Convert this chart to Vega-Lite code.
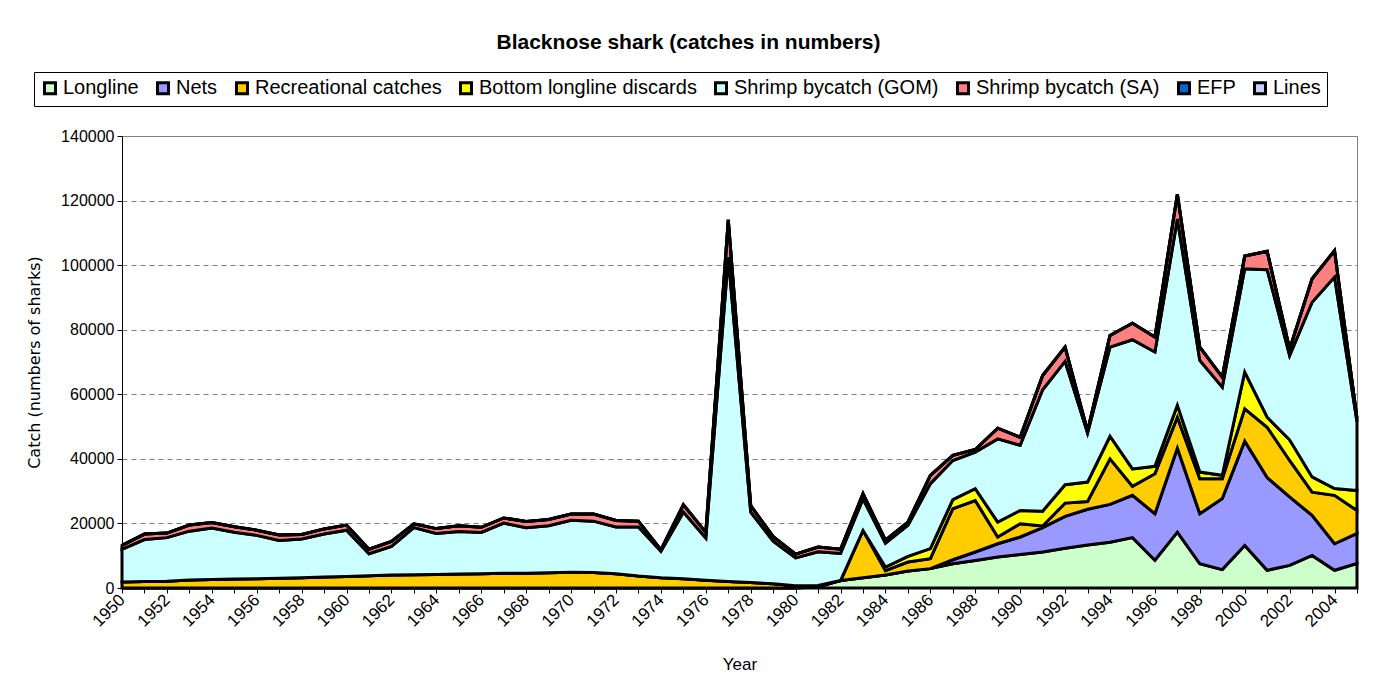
{
  "$schema": "https://vega.github.io/schema/vega-lite/v6.json",
  "width": 1235,
  "height": 452,
  "autosize": {"type": "none"},
  "padding": {"left": 122, "top": 136, "right": 19, "bottom": 104},
  "background": "white",
  "title": {"text": "Blacknose shark (catches in numbers)", "fontSize": 21, "font": "Liberation Sans", "fontWeight": "bold", "anchor": "middle", "frame": "group", "dx": -51, "offset": 19, "color": "black"},
  "data": {"values": [
    {"year": 1950, "Longline": 0, "Nets": 0, "Recreational catches": 1850, "Bottom longline discards": 0, "Shrimp bycatch (GOM)": 10150, "Shrimp bycatch (SA)": 1200, "EFP": 0, "Lines": 0},
    {"year": 1951, "Longline": 0, "Nets": 0, "Recreational catches": 2050, "Bottom longline discards": 0, "Shrimp bycatch (GOM)": 12950, "Shrimp bycatch (SA)": 1700, "EFP": 0, "Lines": 0},
    {"year": 1952, "Longline": 0, "Nets": 0, "Recreational catches": 2100, "Bottom longline discards": 0, "Shrimp bycatch (GOM)": 13500, "Shrimp bycatch (SA)": 1400, "EFP": 0, "Lines": 0},
    {"year": 1953, "Longline": 0, "Nets": 0, "Recreational catches": 2450, "Bottom longline discards": 0, "Shrimp bycatch (GOM)": 15150, "Shrimp bycatch (SA)": 1900, "EFP": 0, "Lines": 0},
    {"year": 1954, "Longline": 0, "Nets": 0, "Recreational catches": 2600, "Bottom longline discards": 0, "Shrimp bycatch (GOM)": 16000, "Shrimp bycatch (SA)": 1700, "EFP": 0, "Lines": 0},
    {"year": 1955, "Longline": 0, "Nets": 0, "Recreational catches": 2750, "Bottom longline discards": 0, "Shrimp bycatch (GOM)": 14550, "Shrimp bycatch (SA)": 1700, "EFP": 0, "Lines": 0},
    {"year": 1956, "Longline": 0, "Nets": 0, "Recreational catches": 2900, "Bottom longline discards": 0, "Shrimp bycatch (GOM)": 13400, "Shrimp bycatch (SA)": 1600, "EFP": 0, "Lines": 0},
    {"year": 1957, "Longline": 0, "Nets": 0, "Recreational catches": 3050, "Bottom longline discards": 0, "Shrimp bycatch (GOM)": 11650, "Shrimp bycatch (SA)": 1700, "EFP": 0, "Lines": 0},
    {"year": 1958, "Longline": 0, "Nets": 0, "Recreational catches": 3200, "Bottom longline discards": 0, "Shrimp bycatch (GOM)": 12000, "Shrimp bycatch (SA)": 1400, "EFP": 0, "Lines": 0},
    {"year": 1959, "Longline": 0, "Nets": 0, "Recreational catches": 3400, "Bottom longline discards": 0, "Shrimp bycatch (GOM)": 13300, "Shrimp bycatch (SA)": 1600, "EFP": 0, "Lines": 0},
    {"year": 1960, "Longline": 0, "Nets": 0, "Recreational catches": 3600, "Bottom longline discards": 0, "Shrimp bycatch (GOM)": 14300, "Shrimp bycatch (SA)": 1600, "EFP": 0, "Lines": 0},
    {"year": 1961, "Longline": 0, "Nets": 0, "Recreational catches": 3800, "Bottom longline discards": 0, "Shrimp bycatch (GOM)": 6800, "Shrimp bycatch (SA)": 1400, "EFP": 0, "Lines": 0},
    {"year": 1962, "Longline": 0, "Nets": 0, "Recreational catches": 4000, "Bottom longline discards": 0, "Shrimp bycatch (GOM)": 8900, "Shrimp bycatch (SA)": 1500, "EFP": 0, "Lines": 0},
    {"year": 1963, "Longline": 0, "Nets": 0, "Recreational catches": 4100, "Bottom longline discards": 0, "Shrimp bycatch (GOM)": 14600, "Shrimp bycatch (SA)": 1200, "EFP": 0, "Lines": 0},
    {"year": 1964, "Longline": 0, "Nets": 0, "Recreational catches": 4200, "Bottom longline discards": 0, "Shrimp bycatch (GOM)": 12700, "Shrimp bycatch (SA)": 1500, "EFP": 0, "Lines": 0},
    {"year": 1965, "Longline": 0, "Nets": 0, "Recreational catches": 4350, "Bottom longline discards": 0, "Shrimp bycatch (GOM)": 13150, "Shrimp bycatch (SA)": 1800, "EFP": 0, "Lines": 0},
    {"year": 1966, "Longline": 0, "Nets": 0, "Recreational catches": 4450, "Bottom longline discards": 0, "Shrimp bycatch (GOM)": 12750, "Shrimp bycatch (SA)": 1600, "EFP": 0, "Lines": 0},
    {"year": 1967, "Longline": 0, "Nets": 0, "Recreational catches": 4550, "Bottom longline discards": 0, "Shrimp bycatch (GOM)": 15550, "Shrimp bycatch (SA)": 1600, "EFP": 0, "Lines": 0},
    {"year": 1968, "Longline": 0, "Nets": 0, "Recreational catches": 4600, "Bottom longline discards": 0, "Shrimp bycatch (GOM)": 14100, "Shrimp bycatch (SA)": 1900, "EFP": 0, "Lines": 0},
    {"year": 1969, "Longline": 0, "Nets": 0, "Recreational catches": 4750, "Bottom longline discards": 0, "Shrimp bycatch (GOM)": 14550, "Shrimp bycatch (SA)": 1900, "EFP": 0, "Lines": 0},
    {"year": 1970, "Longline": 0, "Nets": 0, "Recreational catches": 4900, "Bottom longline discards": 0, "Shrimp bycatch (GOM)": 16100, "Shrimp bycatch (SA)": 1900, "EFP": 0, "Lines": 0},
    {"year": 1971, "Longline": 0, "Nets": 0, "Recreational catches": 4800, "Bottom longline discards": 0, "Shrimp bycatch (GOM)": 15900, "Shrimp bycatch (SA)": 2200, "EFP": 0, "Lines": 0},
    {"year": 1972, "Longline": 0, "Nets": 0, "Recreational catches": 4400, "Bottom longline discards": 0, "Shrimp bycatch (GOM)": 14500, "Shrimp bycatch (SA)": 2000, "EFP": 0, "Lines": 0},
    {"year": 1973, "Longline": 0, "Nets": 0, "Recreational catches": 3700, "Bottom longline discards": 0, "Shrimp bycatch (GOM)": 15200, "Shrimp bycatch (SA)": 1800, "EFP": 0, "Lines": 0},
    {"year": 1974, "Longline": 0, "Nets": 0, "Recreational catches": 3200, "Bottom longline discards": 0, "Shrimp bycatch (GOM)": 8200, "Shrimp bycatch (SA)": 400, "EFP": 0, "Lines": 0},
    {"year": 1975, "Longline": 0, "Nets": 0, "Recreational catches": 2900, "Bottom longline discards": 0, "Shrimp bycatch (GOM)": 20600, "Shrimp bycatch (SA)": 2300, "EFP": 0, "Lines": 0},
    {"year": 1976, "Longline": 0, "Nets": 0, "Recreational catches": 2400, "Bottom longline discards": 0, "Shrimp bycatch (GOM)": 13100, "Shrimp bycatch (SA)": 1700, "EFP": 0, "Lines": 0},
    {"year": 1977, "Longline": 0, "Nets": 0, "Recreational catches": 2000, "Bottom longline discards": 0, "Shrimp bycatch (GOM)": 100500, "Shrimp bycatch (SA)": 11500, "EFP": 0, "Lines": 0},
    {"year": 1978, "Longline": 0, "Nets": 0, "Recreational catches": 1700, "Bottom longline discards": 0, "Shrimp bycatch (GOM)": 21800, "Shrimp bycatch (SA)": 2000, "EFP": 0, "Lines": 0},
    {"year": 1979, "Longline": 0, "Nets": 0, "Recreational catches": 1300, "Bottom longline discards": 0, "Shrimp bycatch (GOM)": 13200, "Shrimp bycatch (SA)": 1400, "EFP": 0, "Lines": 0},
    {"year": 1980, "Longline": 0, "Nets": 0, "Recreational catches": 700, "Bottom longline discards": 0, "Shrimp bycatch (GOM)": 8600, "Shrimp bycatch (SA)": 1200, "EFP": 0, "Lines": 0},
    {"year": 1981, "Longline": 400, "Nets": 0, "Recreational catches": 400, "Bottom longline discards": 0, "Shrimp bycatch (GOM)": 10400, "Shrimp bycatch (SA)": 1500, "EFP": 0, "Lines": 0},
    {"year": 1982, "Longline": 2300, "Nets": 0, "Recreational catches": 0, "Bottom longline discards": 0, "Shrimp bycatch (GOM)": 8400, "Shrimp bycatch (SA)": 1300, "EFP": 0, "Lines": 0},
    {"year": 1983, "Longline": 3200, "Nets": 0, "Recreational catches": 14650, "Bottom longline discards": 0, "Shrimp bycatch (GOM)": 9750, "Shrimp bycatch (SA)": 1600, "EFP": 0, "Lines": 0},
    {"year": 1984, "Longline": 4000, "Nets": 0, "Recreational catches": 1400, "Bottom longline discards": 1100, "Shrimp bycatch (GOM)": 7400, "Shrimp bycatch (SA)": 900, "EFP": 0, "Lines": 0},
    {"year": 1985, "Longline": 5250, "Nets": 0, "Recreational catches": 2800, "Bottom longline discards": 1750, "Shrimp bycatch (GOM)": 9600, "Shrimp bycatch (SA)": 1000, "EFP": 0, "Lines": 0},
    {"year": 1986, "Longline": 6000, "Nets": 0, "Recreational catches": 3080, "Bottom longline discards": 3120, "Shrimp bycatch (GOM)": 20100, "Shrimp bycatch (SA)": 2600, "EFP": 0, "Lines": 0},
    {"year": 1987, "Longline": 7500, "Nets": 1250, "Recreational catches": 15800, "Bottom longline discards": 2800, "Shrimp bycatch (GOM)": 12150, "Shrimp bycatch (SA)": 1600, "EFP": 0, "Lines": 0},
    {"year": 1988, "Longline": 8550, "Nets": 2600, "Recreational catches": 15950, "Bottom longline discards": 3650, "Shrimp bycatch (GOM)": 11350, "Shrimp bycatch (SA)": 800, "EFP": 0, "Lines": 0},
    {"year": 1989, "Longline": 9600, "Nets": 4100, "Recreational catches": 2100, "Bottom longline discards": 4600, "Shrimp bycatch (GOM)": 25800, "Shrimp bycatch (SA)": 3300, "EFP": 0, "Lines": 0},
    {"year": 1990, "Longline": 10400, "Nets": 5400, "Recreational catches": 4100, "Bottom longline discards": 4100, "Shrimp bycatch (GOM)": 20200, "Shrimp bycatch (SA)": 2500, "EFP": 0, "Lines": 0},
    {"year": 1991, "Longline": 11150, "Nets": 7550, "Recreational catches": 500, "Bottom longline discards": 4600, "Shrimp bycatch (GOM)": 37600, "Shrimp bycatch (SA)": 4400, "EFP": 0, "Lines": 0},
    {"year": 1992, "Longline": 12300, "Nets": 9900, "Recreational catches": 4100, "Bottom longline discards": 5700, "Shrimp bycatch (GOM)": 38200, "Shrimp bycatch (SA)": 4400, "EFP": 0, "Lines": 0},
    {"year": 1993, "Longline": 13300, "Nets": 11100, "Recreational catches": 2400, "Bottom longline discards": 6000, "Shrimp bycatch (GOM)": 15200, "Shrimp bycatch (SA)": 600, "EFP": 0, "Lines": 0},
    {"year": 1994, "Longline": 14200, "Nets": 11700, "Recreational catches": 14100, "Bottom longline discards": 7000, "Shrimp bycatch (GOM)": 27600, "Shrimp bycatch (SA)": 3600, "EFP": 0, "Lines": 0},
    {"year": 1995, "Longline": 15600, "Nets": 13100, "Recreational catches": 2800, "Bottom longline discards": 5400, "Shrimp bycatch (GOM)": 40000, "Shrimp bycatch (SA)": 5100, "EFP": 0, "Lines": 0},
    {"year": 1996, "Longline": 8600, "Nets": 14400, "Recreational catches": 12400, "Bottom longline discards": 2300, "Shrimp bycatch (GOM)": 35400, "Shrimp bycatch (SA)": 4600, "EFP": 0, "Lines": 0},
    {"year": 1997, "Longline": 17300, "Nets": 26000, "Recreational catches": 9600, "Bottom longline discards": 3700, "Shrimp bycatch (GOM)": 57700, "Shrimp bycatch (SA)": 7700, "EFP": 0, "Lines": 0},
    {"year": 1998, "Longline": 7500, "Nets": 15500, "Recreational catches": 10800, "Bottom longline discards": 2100, "Shrimp bycatch (GOM)": 34600, "Shrimp bycatch (SA)": 4100, "EFP": 0, "Lines": 0},
    {"year": 1999, "Longline": 5700, "Nets": 22000, "Recreational catches": 6100, "Bottom longline discards": 1100, "Shrimp bycatch (GOM)": 27300, "Shrimp bycatch (SA)": 3100, "EFP": 0, "Lines": 0},
    {"year": 2000, "Longline": 13200, "Nets": 32300, "Recreational catches": 10000, "Bottom longline discards": 11400, "Shrimp bycatch (GOM)": 32000, "Shrimp bycatch (SA)": 3900, "EFP": 0, "Lines": 0},
    {"year": 2001, "Longline": 5500, "Nets": 28700, "Recreational catches": 15600, "Bottom longline discards": 3100, "Shrimp bycatch (GOM)": 45700, "Shrimp bycatch (SA)": 5700, "EFP": 0, "Lines": 0},
    {"year": 2002, "Longline": 7000, "Nets": 21200, "Recreational catches": 11300, "Bottom longline discards": 6400, "Shrimp bycatch (GOM)": 26100, "Shrimp bycatch (SA)": 2000, "EFP": 0, "Lines": 0},
    {"year": 2003, "Longline": 10100, "Nets": 12400, "Recreational catches": 7200, "Bottom longline discards": 4700, "Shrimp bycatch (GOM)": 54100, "Shrimp bycatch (SA)": 7300, "EFP": 0, "Lines": 0},
    {"year": 2004, "Longline": 5500, "Nets": 8200, "Recreational catches": 15000, "Bottom longline discards": 2100, "Shrimp bycatch (GOM)": 65500, "Shrimp bycatch (SA)": 8200, "EFP": 0, "Lines": 0},
    {"year": 2005, "Longline": 7600, "Nets": 9300, "Recreational catches": 7100, "Bottom longline discards": 6200, "Shrimp bycatch (GOM)": 21300, "Shrimp bycatch (SA)": 1000, "EFP": 0, "Lines": 0}
  ]},
  "transform": [
    {"fold": ["Longline", "Nets", "Recreational catches", "Bottom longline discards", "Shrimp bycatch (GOM)", "Shrimp bycatch (SA)", "EFP", "Lines"], "as": ["series", "catch"]},
    {"calculate": "indexof(['Longline', 'Nets', 'Recreational catches', 'Bottom longline discards', 'Shrimp bycatch (GOM)', 'Shrimp bycatch (SA)', 'EFP', 'Lines'], datum.series)", "as": "stackOrder"}
  ],
  "mark": {"type": "area", "stroke": "black", "strokeJoin": "miter"},
  "encoding": {
    "x": {
      "field": "year", "type": "quantitative",
      "scale": {"domain": [1950, 2005], "nice": false, "zero": false},
      "axis": {
        "title": "Year",
        "values": [1950,1951,1952,1953,1954,1955,1956,1957,1958,1959,1960,1961,1962,1963,1964,1965,1966,1967,1968,1969,1970,1971,1972,1973,1974,1975,1976,1977,1978,1979,1980,1981,1982,1983,1984,1985,1986,1987,1988,1989,1990,1991,1992,1993,1994,1995,1996,1997,1998,1999,2000,2001,2002,2003,2004,2005],
        "format": "d",
        "labelExpr": "datum.value % 2 === 0 ? datum.label : ''",
        "labelAngle": -45,
        "labelAlign": "right",
        "labelBaseline": "middle",
        "labelFontSize": 17,
        "labelPadding": 4,
        "labelOverlap": false,
        "labelFlush": false,
        "labelBound": false,
        "labelColor": "black",
        "tickSize": 5,
        "tickColor": "black",
        "domainColor": "black",
        "grid": false,
        "titleFontSize": 17,
        "titleFontWeight": "normal",
        "titleColor": "black",
        "titleY": 76,
        "titleBaseline": "middle"
      }
    },
    "y": {
      "field": "catch", "type": "quantitative", "stack": "zero",
      "scale": {"domain": [0, 140000], "nice": false},
      "axis": {
        "title": "Catch (numbers of sharks)",
        "values": [0, 20000, 40000, 60000, 80000, 100000, 120000, 140000],
        "format": "d",
        "grid": true,
        "gridDash": [5, 4],
        "gridColor": "#808080",
        "gridWidth": 1,
        "labelFontSize": 16,
        "labelColor": "black",
        "labelPadding": 3,
        "tickSize": 5,
        "tickColor": "black",
        "domainColor": "black",
        "titleFont": "DejaVu Sans",
        "titleFontSize": 16,
        "titleFontWeight": "normal",
        "titleColor": "black",
        "titleX": -88,
        "titleBaseline": "middle"
      }
    },
    "order": {"field": "stackOrder", "type": "quantitative", "sort": "ascending"},
    "color": {
      "field": "series", "type": "nominal",
      "sort": ["Longline", "Nets", "Recreational catches", "Bottom longline discards", "Shrimp bycatch (GOM)", "Shrimp bycatch (SA)", "EFP", "Lines"],
      "scale": {
        "domain": ["Longline", "Nets", "Recreational catches", "Bottom longline discards", "Shrimp bycatch (GOM)", "Shrimp bycatch (SA)", "EFP", "Lines"],
        "range": ["#CCFFCC", "#9999FF", "#FFCC00", "#FFFF00", "#CCFFFF", "#FF8080", "#0066CC", "#CCCCFF"]
      },
      "legend": {
        "orient": "none", "legendX": -88, "legendY": -64,
        "direction": "horizontal", "title": null,
        "strokeColor": "black", "fillColor": "white", "padding": 6,
        "labelFontSize": 20, "labelColor": "black", "labelOffset": 3, "labelLimit": 0,
        "symbolType": "square", "symbolSize": 121, "symbolStrokeColor": "black",
        "columnPadding": 12,
        "encode": {"symbols": {"update": {"stroke": {"value": "black"}}}}
      }
    },
    "strokeWidth": {
      "field": "series", "type": "ordinal",
      "sort": ["Longline", "Nets", "Recreational catches", "Bottom longline discards", "Shrimp bycatch (GOM)", "Shrimp bycatch (SA)", "EFP", "Lines"],
      "scale": {
        "domain": ["Longline", "Nets", "Recreational catches", "Bottom longline discards", "Shrimp bycatch (GOM)", "Shrimp bycatch (SA)", "EFP", "Lines"],
        "range": [3, 3, 3, 3, 1.5, 1.5, 1.5, 1.5]
      },
      "legend": {
        "orient": "none", "legendX": -88, "legendY": -64,
        "direction": "horizontal", "title": null,
        "strokeColor": "black", "fillColor": "white", "padding": 6,
        "labelFontSize": 20, "labelColor": "black", "labelOffset": 3, "labelLimit": 0,
        "symbolType": "square", "symbolSize": 121, "symbolStrokeColor": "black",
        "columnPadding": 12,
        "encode": {"symbols": {"update": {"stroke": {"value": "black"}}}}
      }
    }
  },
  "config": {
    "font": "Liberation Sans",
    "view": {"stroke": "#808080", "strokeWidth": 1},
    "axis": {"labelFont": "Liberation Sans", "titleFont": "Liberation Sans"},
    "legend": {"labelFont": "Liberation Sans", "labelLimit": 0}
  }
}
